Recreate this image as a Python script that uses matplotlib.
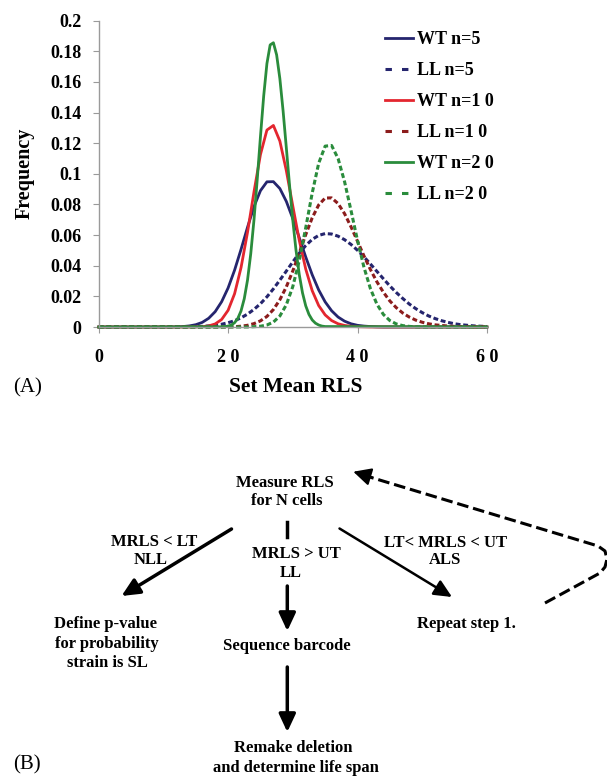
import numpy as np
import matplotlib
matplotlib.use("Agg")
import matplotlib.pyplot as plt
from matplotlib.lines import Line2D

plt.rcParams['font.family'] = ['Liberation Serif', 'DejaVu Serif']
plt.rcParams['font.weight'] = 'bold'

# ---- data (frequency vs set mean RLS) ----
rls = list(range(61))
rls_fine = [0] + list(np.arange(19, 35.5, 0.5)) + [60]

wt_n5 = [0.0] * 12 + [0.0001, 0.0003, 0.0007, 0.0015, 0.0030, 0.0057, 0.0100, 0.0165,
                      0.0255, 0.0371, 0.0507, 0.0651, 0.0786, 0.0890, 0.0948, 0.0949,
                      0.0904, 0.0820, 0.0708, 0.0583, 0.0457, 0.0341, 0.0242, 0.0164,
                      0.0106, 0.0065, 0.0038, 0.0021, 0.0011, 0.0006, 0.0003, 0.0001] + [0.0] * 17
wt_n10 = [0.0] * 15 + [0.0001, 0.0002, 0.0007, 0.0020, 0.0049, 0.0109, 0.0217, 0.0388,
                       0.0618, 0.0882, 0.1126, 0.1286, 0.1316, 0.1214, 0.1021, 0.0790,
                       0.0566, 0.0378, 0.0237, 0.0140, 0.0079, 0.0042, 0.0021, 0.0010,
                       0.0005, 0.0002, 0.0001] + [0.0] * 19
wt_n20 = [0.0, 0.0001, 0.0002, 0.0006, 0.0013, 0.0028, 0.0056, 0.0105, 0.0185, 0.0306,
          0.0478, 0.0699, 0.0962, 0.1243, 0.1508, 0.1720, 0.1842, 0.1856, 0.1777, 0.1622,
          0.1411, 0.1170, 0.0924, 0.0696, 0.0500, 0.0342, 0.0223, 0.0138, 0.0082, 0.0046,
          0.0025, 0.0013, 0.0006, 0.0003, 0.0]
ll_n5 = [0.0] * 14 + [0.0002, 0.0003, 0.0004, 0.0007, 0.0012, 0.0018, 0.0028, 0.0041,
                      0.0060, 0.0084, 0.0115, 0.0152, 0.0197, 0.0249, 0.0306, 0.0365,
                      0.0425, 0.0482, 0.0532, 0.0572, 0.0598, 0.0610, 0.0607, 0.0593,
                      0.0570, 0.0539, 0.0501, 0.0458, 0.0411, 0.0363, 0.0315, 0.0268,
                      0.0225, 0.0186, 0.0150, 0.0120, 0.0094, 0.0072, 0.0055, 0.0041,
                      0.0030, 0.0021, 0.0015, 0.0011, 0.0007, 0.0005, 0.0003]
ll_n10 = [0.0] * 20 + [0.0001, 0.0002, 0.0005, 0.0011, 0.0022, 0.0040, 0.0069, 0.0114,
                       0.0178, 0.0262, 0.0366, 0.0483, 0.0603, 0.0713, 0.0797, 0.0842,
                       0.0843, 0.0806, 0.0740, 0.0654, 0.0560, 0.0464, 0.0375, 0.0295,
                       0.0227, 0.0170, 0.0126, 0.0091, 0.0065, 0.0045, 0.0031, 0.0021,
                       0.0014, 0.0010, 0.0006, 0.0004, 0.0003, 0.0002, 0.0001, 0.0001] + [0.0]
ll_n20 = [0.0] * 24 + [0.0002, 0.0005, 0.0013, 0.0032, 0.0072, 0.0145, 0.0264, 0.0434,
                       0.0648, 0.0875, 0.1069, 0.1181, 0.1185, 0.1100, 0.0949, 0.0760,
                       0.0565, 0.0390, 0.0250, 0.0149, 0.0082, 0.0042, 0.0020, 0.0009,
                       0.0004, 0.0001] + [0.0] * 11

series_labels = ["WT n=5", "LL n=5", "WT n=1 0", "LL n=1 0", "WT n=2 0", "LL n=2 0"]
series_x = [rls, rls, rls, rls, rls_fine, rls]
series_y = [wt_n5, ll_n5, wt_n10, ll_n10, wt_n20, ll_n20]

x_ticks = [0, 20, 40, 60]
x_ticklabels = ["0", "2 0", "4 0", "6 0"]
y_ticks = [0, 0.02, 0.04, 0.06, 0.08, 0.1, 0.12, 0.14, 0.16, 0.18, 0.2]
y_ticklabels = ["0", "0.02", "0.04", "0.06", "0.08", "0.1", "0.12", "0.14", "0.16", "0.18", "0.2"]

navy = '#25256e'
red = '#e3262f'
maroon = '#8c1c1c'
green = '#2a8c3c'
colors = [navy, navy, red, maroon, green, green]
dashed = [False, True, False, True, False, True]

W, H = 607, 777
fig = plt.figure(figsize=(W / 100, H / 100), dpi=100)

# ---- panel A ----
ax = fig.add_axes([98.7 / W, 1 - 327 / H, (486.9 - 98.7) / W, (327 - 20.7) / H])
handles = []
for xs, ys, c, d in zip(series_x, series_y, colors, dashed):
    if d:
        ax.plot(xs, ys, color=c, lw=2.2, linestyle=(0, (1.6, 0.9)), clip_on=False)
        handles.append(Line2D([], [], color=c, lw=2.2, linestyle=(0, (2.1, 3.3))))
    else:
        ax.plot(xs, ys, color=c, lw=2.0, clip_on=False)
        handles.append(Line2D([], [], color=c, lw=2.0))

ax.set_xlim(0, 60)
ax.set_ylim(0, 0.2)
ax.set_xticks(x_ticks)
ax.set_xticklabels(x_ticklabels)
ax.set_yticks(y_ticks)
ax.set_yticklabels(y_ticklabels)
for s in ['top', 'right']:
    ax.spines[s].set_visible(False)
for s in ['left', 'bottom']:
    ax.spines[s].set_color('#9a9a9a')
    ax.spines[s].set_linewidth(1.0)
ax.tick_params(axis='both', direction='out', color='#9a9a9a', labelsize=13)
ax.tick_params(axis='y', length=4.5, pad=8)
ax.tick_params(axis='x', length=4, pad=12)

fig.legend(handles, series_labels, loc='upper left', bbox_to_anchor=(385 / W, 1 - 31 / H),
           frameon=False, fontsize=13, handlelength=1.55, handletextpad=0.2,
           labelspacing=0.78, borderpad=0, borderaxespad=0)

fig.text(25 / W, 1 - 173 / H, 'Frequency', rotation=90, ha='center', va='center', fontsize=14.5)
fig.text(296 / W, 1 - 387 / H, 'Set Mean RLS', ha='center', va='center', fontsize=15.5)
fig.text(13 / W, 1 - 388 / H, '(A)', ha='left', va='center', fontsize=15, fontweight='normal')

# ---- panel B (flow chart, pixel coordinates) ----
ov = fig.add_axes([0, 0, 1, 1])
ov.set_xlim(0, W)
ov.set_ylim(H, 0)
ov.axis('off')
ov.patch.set_visible(False)

boxes = [
    ("Measure RLS", 285, 483), ("for N cells", 287, 501),
    ("MRLS < LT", 154, 542), ("NLL", 151, 560),
    ("MRLS > UT", 296, 554), ("LL", 291, 573),
    ("LT< MRLS < UT", 446, 543), ("ALS", 445, 560),
    ("Define p-value", 105, 624), ("for probability", 107, 644), ("strain is SL", 107, 663),
    ("Sequence barcode", 286.5, 646),
    ("Repeat step 1.", 466.7, 623.5),
    ("Remake deletion", 293.5, 748.5), ("and determine life span", 296, 767.5),
]
for t, x, y in boxes:
    ov.text(x, y, t, ha='center', va='center', fontsize=12)

ov.text(13, 765, '(B)', ha='left', va='center', fontsize=15, fontweight='normal')


def arrow(start, end, lw, ms):
    ov.annotate('', xy=end, xytext=start,
                arrowprops=dict(arrowstyle='-|>,head_length=0.9,head_width=0.42',
                                lw=lw, color='black', shrinkA=0, shrinkB=0, mutation_scale=ms))


arrow((231.5, 529), (121.5, 596), 2.5, 12)
arrow((339.5, 528.5), (452, 597), 1.8, 12)
arrow((287.3, 586), (287.3, 631), 2.5, 12)
arrow((287.3, 667), (287.3, 732), 2.5, 12)
ov.plot([287.3, 287.3], [522, 537], color='black', lw=2.5)

# dashed return loop
ov.plot([545, 600, 605, 607, 605, 598, 368], [603, 573, 567, 559, 551, 546, 476.5],
        color='black', lw=2.2, linestyle=(0, (3.8, 1.6)))
ov.annotate('', xy=(353.3, 471.7), xytext=(372, 477.3),
            arrowprops=dict(arrowstyle='-|>,head_length=0.9,head_width=0.45', lw=1.5,
                            color='black', shrinkA=0, shrinkB=0, mutation_scale=12))

fig.savefig('out.png', dpi=100)
